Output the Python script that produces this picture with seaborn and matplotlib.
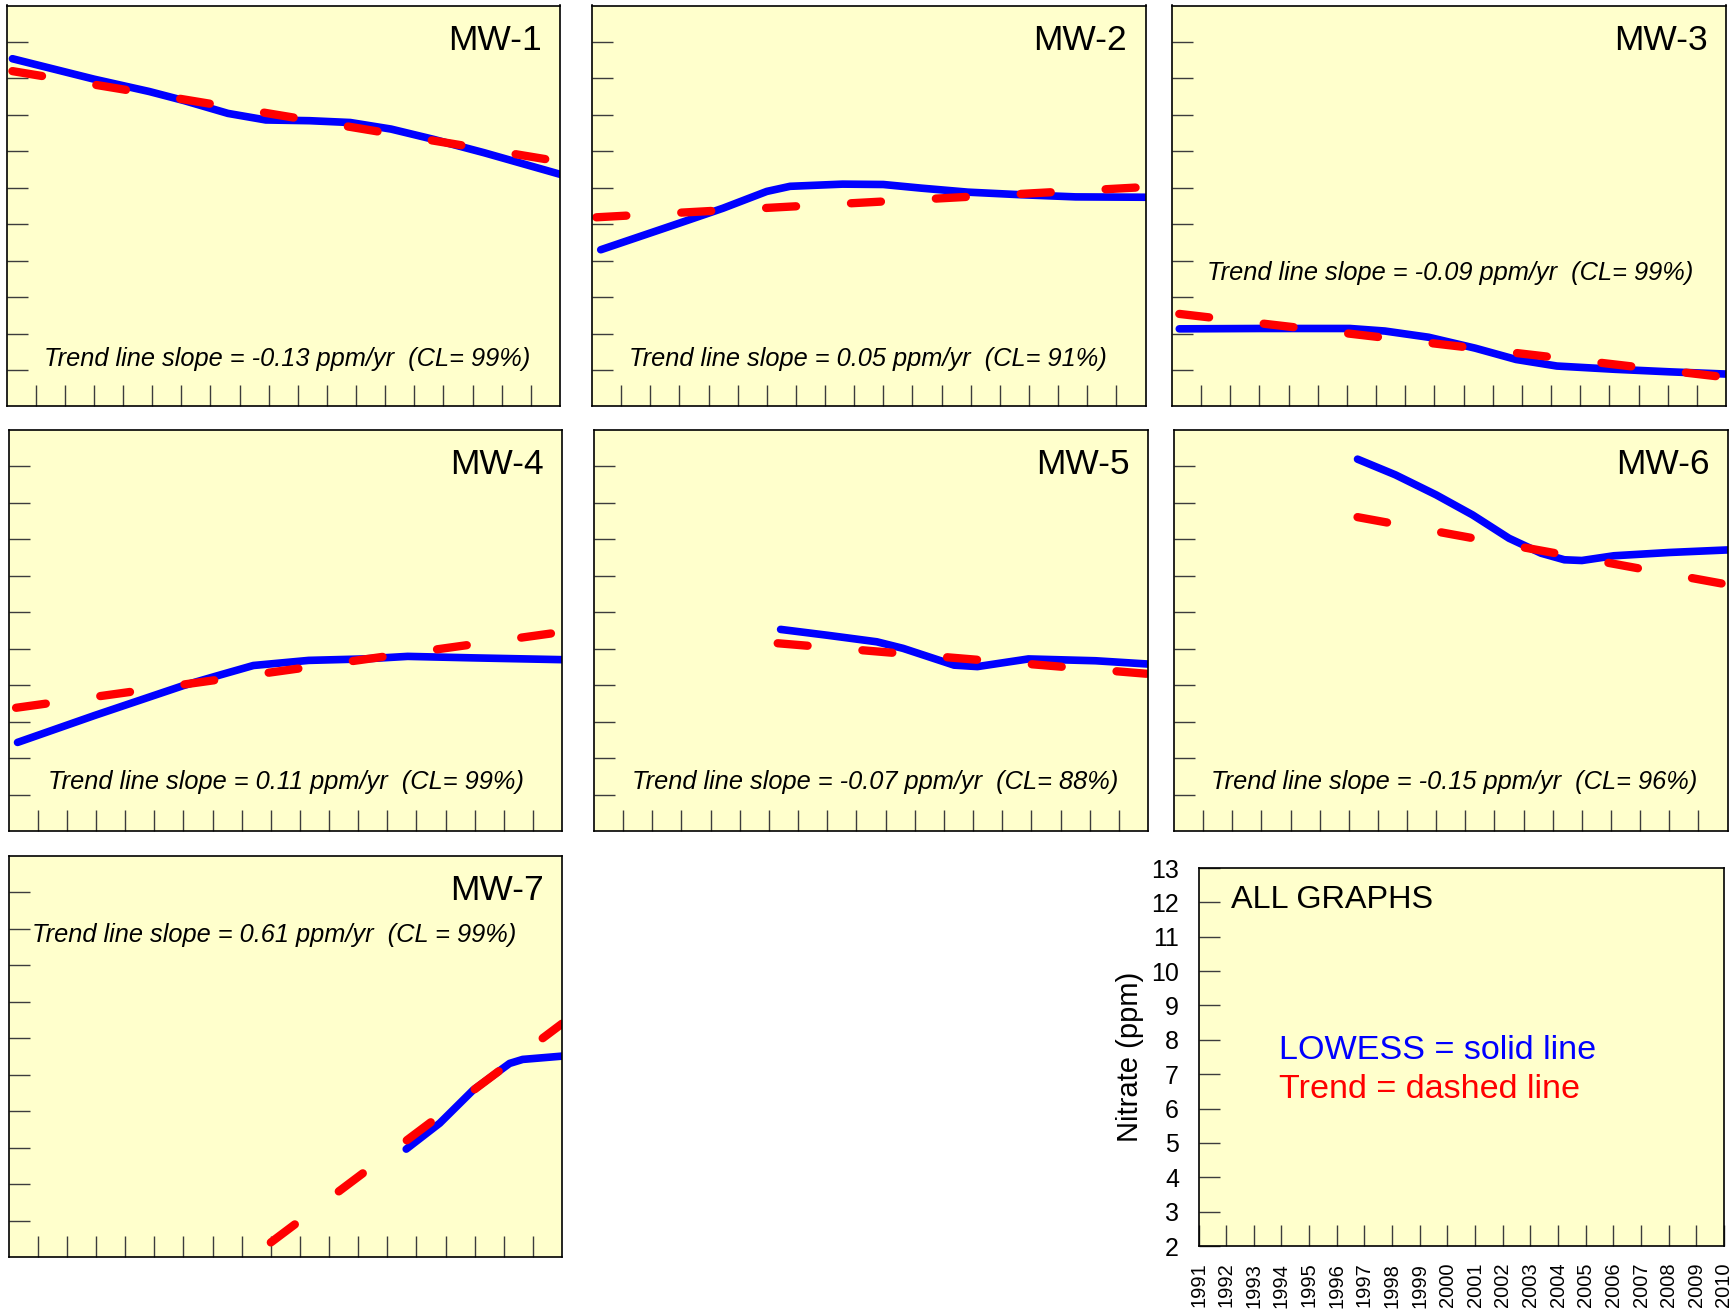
import matplotlib
matplotlib.use("Agg")
import numpy as np
import seaborn as sns
from matplotlib import pyplot as plt

# ---- data (year, nitrate ppm) ----
years = list(range(1991, 2011))
ppm_ticks = list(range(2, 14))

mw1_lowess_year = [1991.2, 1994.0, 1995.9, 1997.1, 1998.6, 1999.9, 2001.4, 2002.8, 2004.2, 2005.65, 2007.4, 2010.0]
mw1_lowess_ppm = [11.54, 10.98, 10.64, 10.39, 10.04, 9.86, 9.84, 9.79, 9.61, 9.33, 8.96, 8.37]
mw1_trend_year = [1991.2, 2010.0]
mw1_trend_ppm = [11.20, 8.72]

mw2_lowess_year = [1991.3, 1994.0, 1995.5, 1997.0, 1997.8, 1999.6, 2001.0, 2002.3, 2003.9, 2005.7, 2007.6, 2010.0]
mw2_lowess_ppm = [6.30, 7.03, 7.44, 7.90, 8.04, 8.10, 8.09, 7.99, 7.88, 7.81, 7.75, 7.74]
mw2_trend_year = [1991.15, 2010.0]
mw2_trend_ppm = [7.19, 8.02]

mw3_lowess_year = [1991.25, 1994.0, 1997.1, 1998.3, 1999.8, 2001.4, 2002.8, 2004.2, 2006.2, 2008.1, 2010.0]
mw3_lowess_ppm = [4.13, 4.14, 4.14, 4.07, 3.90, 3.60, 3.29, 3.11, 3.02, 2.95, 2.89]
mw3_trend_year = [1991.25, 2010.0]
mw3_trend_ppm = [4.54, 2.80]

mw4_lowess_year = [1991.3, 1993.95, 1997.0, 1998.3, 1999.4, 2001.3, 2003.2, 2004.7, 2006.9, 2010.0]
mw4_lowess_ppm = [4.43, 5.17, 5.99, 6.29, 6.54, 6.68, 6.72, 6.79, 6.75, 6.70]
mw4_trend_year = [1991.25, 2010.0]
mw4_trend_ppm = [5.38, 7.46]

mw5_lowess_year = [1997.4, 1999.0, 2000.7, 2001.6, 2003.35, 2004.15, 2005.9, 2008.2, 2010.0]
mw5_lowess_ppm = [7.53, 7.37, 7.19, 7.01, 6.55, 6.51, 6.72, 6.67, 6.58]
mw5_trend_year = [1997.3, 2010.0]
mw5_trend_ppm = [7.15, 6.31]

mw6_lowess_year = [1997.3, 1998.6, 2000.0, 2001.25, 2002.5, 2003.6, 2004.4, 2005.0, 2006.1, 2008.0, 2010.0]
mw6_lowess_ppm = [12.20, 11.77, 11.22, 10.67, 10.03, 9.62, 9.44, 9.42, 9.55, 9.64, 9.71]
mw6_trend_year = [1997.3, 2010.0]
mw6_trend_ppm = [10.61, 8.76]

mw7_lowess_year = [2004.65, 2005.8, 2006.95, 2008.2, 2008.65, 2010.0]
mw7_lowess_ppm = [4.96, 5.67, 6.58, 7.31, 7.42, 7.51]
mw7_trend_year = [2000.0, 2010.0]
mw7_trend_ppm = [2.40, 8.40]

well_names = ["MW-1", "MW-2", "MW-3", "MW-4", "MW-5", "MW-6", "MW-7"]
slope_notes = [
    "Trend line slope = -0.13 ppm/yr  (CL= 99%)",
    "Trend line slope = 0.05 ppm/yr  (CL= 91%)",
    "Trend line slope = -0.09 ppm/yr  (CL= 99%)",
    "Trend line slope = 0.11 ppm/yr  (CL= 99%)",
    "Trend line slope = -0.07 ppm/yr  (CL= 88%)",
    "Trend line slope = -0.15 ppm/yr  (CL= 96%)",
    "Trend line slope = 0.61 ppm/yr  (CL = 99%)",
]

lowess_data = [(mw1_lowess_year, mw1_lowess_ppm), (mw2_lowess_year, mw2_lowess_ppm),
               (mw3_lowess_year, mw3_lowess_ppm), (mw4_lowess_year, mw4_lowess_ppm),
               (mw5_lowess_year, mw5_lowess_ppm), (mw6_lowess_year, mw6_lowess_ppm),
               (mw7_lowess_year, mw7_lowess_ppm)]
trend_data = [(mw1_trend_year, mw1_trend_ppm), (mw2_trend_year, mw2_trend_ppm),
              (mw3_trend_year, mw3_trend_ppm), (mw4_trend_year, mw4_trend_ppm),
              (mw5_trend_year, mw5_trend_ppm), (mw6_trend_year, mw6_trend_ppm),
              (mw7_trend_year, mw7_trend_ppm)]

# ---- layout (pixel boxes in a 1732x1313 canvas) ----
W, H = 1732, 1313
boxes = [(6.6, 5.5, 560, 406.5), (592, 5.5, 1145.5, 406.5), (1172, 5.5, 1726, 406.5),
         (8.8, 430, 562, 831), (594, 430, 1148, 831), (1174, 430, 1727.5, 831),
         (8.8, 856, 562, 1257)]
note_pos = [(0.507, 0.118), (0.499, 0.118), (0.503, 0.333),
            (0.501, 0.121), (0.507, 0.121), (0.507, 0.121), (0.479, 0.804)]
all_box = (1198.5, 868, 1724, 1246)

BG = "#ffffcc"
BLUE = "#0000ff"
RED = "#ff0000"
TICK_COLOR = "#3c3c3c"

sns.set_theme(style="white")
plt.rcParams["font.family"] = ["Liberation Sans", "DejaVu Sans"]
plt.rcParams["text.color"] = "black"
plt.rcParams["axes.labelcolor"] = "black"
plt.rcParams["xtick.color"] = "black"
plt.rcParams["ytick.color"] = "black"


def px_axes(fig, box):
    x0, y0, x1, y1 = box
    return fig.add_axes([x0 / W, 1 - y1 / H, (x1 - x0) / W, (y1 - y0) / H])


def style_axes(ax):
    ax.set_facecolor(BG)
    ax.set_xlim(1991, 2010)
    ax.set_ylim(2, 13)
    ax.set_xlabel("")
    ax.set_ylabel("")
    for s in ax.spines.values():
        s.set_color("black")
        s.set_linewidth(1.2)
        s.set_visible(True)
    ax.tick_params(axis="both", direction="in", length=15, width=1, color=TICK_COLOR,
                   labelcolor="black", bottom=True, left=True, top=False, right=False)


fig = plt.figure(figsize=(W / 100, H / 100), dpi=100)
fig.patch.set_facecolor("white")

for i, name in enumerate(well_names):
    ax = px_axes(fig, boxes[i])
    lx, ly = lowess_data[i]
    tx, ty = trend_data[i]
    sns.lineplot(x=lx, y=ly, ax=ax, color=BLUE, linewidth=5.5, estimator=None, sort=False,
                 solid_capstyle="round", solid_joinstyle="round")
    sns.lineplot(x=tx, y=ty, ax=ax, color=RED, linewidth=6, estimator=None, sort=False,
                 linestyle=(0, (3.6, 6.6)), dash_capstyle="round")
    style_axes(ax)
    ax.set_xticks(years[1:-1])
    ax.set_yticks(ppm_ticks[1:-1])
    ax.tick_params(labelbottom=False, labelleft=False)
    ax.text(0.967, 0.955, name, transform=ax.transAxes, ha="right", va="top", fontsize=25.5)
    nx, ny = note_pos[i]
    ax.text(nx, ny, slope_notes[i], transform=ax.transAxes, ha="center", va="center",
            fontsize=18.3, style="italic")

# summary / key panel
ax = px_axes(fig, all_box)
style_axes(ax)
ax.set_xticks(years)
ax.set_xticklabels([str(y) for y in years], rotation=90, fontsize=14.5)
ax.set_yticks(ppm_ticks)
ax.set_yticklabels([str(v) for v in ppm_ticks], fontsize=18)
ax.tick_params(axis="x", pad=12)
ax.tick_params(axis="y", pad=14)
ax.set_ylabel("Nitrate (ppm)", fontsize=21, labelpad=5)
ax.text(0.061, 0.955, "ALL GRAPHS", transform=ax.transAxes, ha="left", va="top", fontsize=23.3)
ax.text(0.153, 0.518, "LOWESS = solid line", transform=ax.transAxes, ha="left", va="center",
        fontsize=24.6, color=BLUE)
ax.text(0.153, 0.415, "Trend = dashed line", transform=ax.transAxes, ha="left", va="center",
        fontsize=24.6, color=RED)

fig.savefig("out.png", dpi=100, facecolor="white")
